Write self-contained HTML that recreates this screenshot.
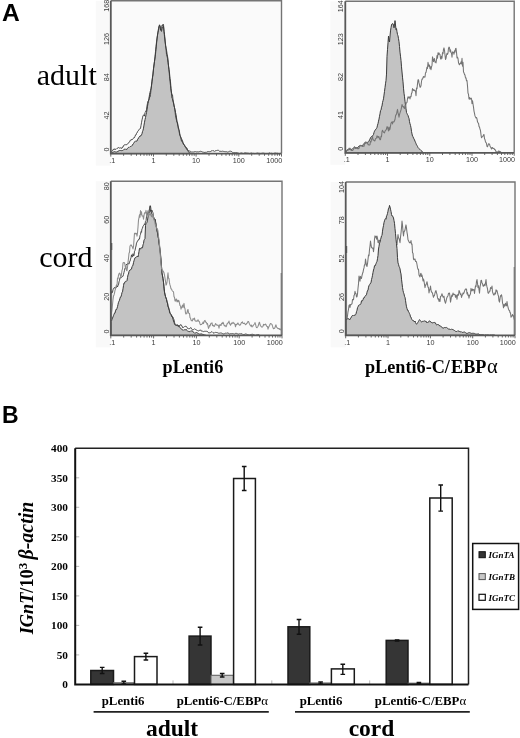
<!DOCTYPE html>
<html><head><meta charset="utf-8"><style>
html,body{margin:0;padding:0;background:#fff;width:520px;height:738px;overflow:hidden;font-family:"Liberation Sans",sans-serif;}
svg{display:block;filter:blur(0.6px);}
</style></head><body>
<svg width="520" height="738" viewBox="0 0 520 738">
<rect width="520" height="738" fill="#fff"/>
<rect x="95.8" y="0.8" width="15.0" height="164.8" fill="#f9f9f9"/>
<rect x="110.8" y="0.8" width="170.7" height="152.8" fill="#fafafa"/>

<path d="M111.0,153.6 L111.0,152.9 L111.5,152.9 L112.0,152.4 L112.5,152.4 L113.0,152.1 L113.5,152.0 L114.0,151.8 L114.5,151.6 L115.0,151.9 L115.5,151.9 L116.0,152.1 L116.5,152.0 L117.0,151.8 L117.5,151.7 L118.0,150.9 L118.5,151.0 L119.0,150.8 L119.5,150.5 L120.0,150.7 L120.5,150.5 L121.0,150.2 L121.5,150.6 L122.0,150.4 L122.5,150.5 L123.0,150.2 L123.5,150.0 L124.0,149.4 L124.5,149.2 L125.0,149.3 L125.5,149.0 L126.0,149.6 L126.5,149.3 L127.0,149.4 L127.5,148.5 L128.0,147.9 L128.5,147.3 L129.0,147.6 L129.5,147.1 L130.0,146.6 L130.5,146.5 L131.0,146.1 L131.5,146.1 L132.0,145.5 L132.5,145.2 L133.0,144.0 L133.5,143.5 L134.0,142.7 L134.5,141.9 L135.0,141.6 L135.5,141.0 L136.0,141.1 L136.5,141.2 L137.0,141.1 L137.5,139.5 L138.0,139.2 L138.5,137.7 L139.0,137.3 L139.5,137.0 L140.0,135.9 L140.5,135.8 L141.0,135.8 L141.5,134.9 L142.0,133.6 L142.5,131.6 L143.0,130.3 L143.5,128.2 L144.0,125.1 L144.5,122.2 L145.0,119.7 L145.5,117.5 L146.0,114.8 L146.5,112.6 L147.0,109.6 L147.5,106.2 L148.0,103.5 L148.5,101.3 L149.0,98.3 L149.5,94.8 L150.0,92.4 L150.5,90.5 L151.0,88.7 L151.5,85.9 L152.0,81.1 L152.5,77.8 L153.0,73.1 L153.5,68.7 L154.0,65.0 L154.5,61.4 L155.0,58.0 L155.5,54.1 L156.0,49.3 L156.5,44.0 L157.0,39.1 L157.5,35.1 L158.0,32.4 L158.5,30.3 L159.0,26.8 L159.5,24.8 L160.0,26.3 L160.5,30.0 L161.0,30.3 L161.5,31.4 L162.0,28.8 L162.5,28.2 L163.0,26.2 L163.5,26.4 L164.0,31.2 L164.5,34.4 L165.0,39.0 L165.5,45.3 L166.0,48.1 L166.5,54.5 L167.0,56.0 L167.5,58.2 L168.0,62.4 L168.5,66.1 L169.0,69.7 L169.5,73.0 L170.0,78.5 L170.5,81.9 L171.0,88.5 L171.5,93.7 L172.0,98.4 L172.5,98.8 L173.0,101.6 L173.5,103.0 L174.0,105.1 L174.5,107.7 L175.0,109.5 L175.5,112.4 L176.0,114.5 L176.5,117.9 L177.0,121.3 L177.5,124.1 L178.0,126.5 L178.5,129.4 L179.0,130.7 L179.5,133.8 L180.0,135.3 L180.5,136.4 L181.0,137.4 L181.5,138.5 L182.0,140.0 L182.5,141.0 L183.0,142.3 L183.5,144.0 L184.0,144.7 L184.5,145.4 L185.0,146.5 L185.5,146.7 L186.0,147.6 L186.5,147.7 L187.0,148.3 L187.5,149.9 L188.0,150.8 L188.5,151.9 L189.0,152.7 L189.5,152.8 L190.0,153.0 L190.5,153.0 L191.0,153.1 L191.0,153.6 Z" fill="#c3c3c3" stroke="#3a3a3a" stroke-width="1" stroke-linejoin="round"/>
<path d="M111.0,152.3 111.5,151.8 112.0,150.9 112.5,150.6 113.0,149.5 113.5,149.7 114.0,148.7 114.5,149.0 115.0,149.7 115.5,149.0 116.0,149.4 116.5,148.8 117.0,148.3 117.5,148.2 118.0,148.2 118.5,147.5 119.0,147.7 119.5,148.1 120.0,147.9 120.5,147.7 121.0,148.5 121.5,148.2 122.0,148.3 122.5,147.0 123.0,147.2 123.5,145.8 124.0,145.0 124.5,144.8 125.0,144.5 125.5,144.7 126.0,144.5 126.5,144.7 127.0,144.7 127.5,143.9 128.0,143.2 128.5,142.9 129.0,142.7 129.5,142.0 130.0,140.9 130.5,140.0 131.0,140.0 131.5,140.0 132.0,139.0 132.5,139.4 133.0,138.6 133.5,138.3 134.0,137.4 134.5,137.6 135.0,136.3 135.5,135.0 136.0,135.0 136.5,133.4 137.0,133.0 137.5,131.7 138.0,130.8 138.5,130.6 139.0,129.7 139.5,128.9 140.0,128.8 140.5,128.5 141.0,125.5 141.5,122.8 142.0,119.9 142.5,117.9 143.0,115.5 143.5,115.2 144.0,114.9 144.5,116.1 145.0,112.4 145.5,112.0 146.0,111.0 146.5,109.9 147.0,105.9 147.5,103.2 148.0,101.0 148.5,100.5 149.0,99.7 149.5,97.0 150.0,97.2 150.5,94.4 151.0,89.7 151.5,85.0 152.0,81.3 152.5,77.0 153.0,74.8 153.5,69.0 154.0,65.0 154.5,61.1 155.0,56.8 155.5,51.4 156.0,46.5 156.5,42.0 157.0,38.2 157.5,35.1 158.0,31.3 158.5,28.7 159.0,26.4 159.5,25.3 160.0,25.8 160.5,27.9 161.0,30.2 161.5,28.4 162.0,25.3 162.5,25.9 163.0,24.0 163.5,24.5 164.0,31.2 164.5,36.8 165.0,41.3 165.5,44.3 166.0,48.2 166.5,50.1 167.0,53.2 167.5,56.0 168.0,59.3 168.5,65.5 169.0,69.9 169.5,76.3 170.0,81.1 170.5,85.7 171.0,90.1 171.5,92.9 172.0,94.3 172.5,94.8 173.0,99.7 173.5,102.2 174.0,106.0 174.5,107.5 175.0,111.0 175.5,115.7 176.0,118.0 176.5,120.3 177.0,122.4 177.5,122.6 178.0,125.4 178.5,128.0 179.0,129.3 179.5,131.9 180.0,135.3 180.5,137.1 181.0,139.1 181.5,141.1 182.0,141.4 182.5,142.5 183.0,143.3 183.5,144.4 184.0,145.0 184.5,144.9 185.0,146.5 185.5,147.4 186.0,147.9 186.5,149.1 187.0,149.5 187.5,150.1 188.0,150.5 188.5,150.6 189.0,151.1 189.5,151.0 190.0,151.2 190.5,151.4 191.0,151.6 191.5,152.0 192.0,152.1 192.5,152.0 193.0,152.3 193.5,152.0 194.0,152.1 194.5,151.7 195.0,152.1 195.5,151.6 196.0,151.6 196.5,151.9 197.0,151.7 197.5,151.8 198.0,152.1 198.5,151.9 199.0,151.8 199.5,151.6 200.0,151.4 200.5,151.3 201.0,151.4 201.5,151.5 202.0,151.8 202.5,152.0 203.0,151.7 203.5,152.0 204.0,152.7 204.5,152.4 205.0,152.5 205.5,152.3 206.0,152.2 206.5,152.3 207.0,151.7 207.5,151.8 208.0,151.8 208.5,151.6 209.0,151.6 209.5,151.7 210.0,151.7 210.5,151.6 211.0,151.0 211.5,150.8 212.0,151.2 212.5,150.7 213.0,150.9 213.5,150.8 214.0,150.8 214.5,151.4 215.0,150.8 215.5,150.8 216.0,150.9 216.5,150.6 217.0,150.1 217.5,150.3 218.0,150.3 218.5,150.2 219.0,150.7 219.5,151.3 220.0,151.8 220.5,151.1 221.0,151.3 221.5,151.4 222.0,151.2 222.5,151.2 223.0,151.2 223.5,151.4 224.0,151.2 224.5,151.6 225.0,151.6 225.5,151.7 226.0,151.9 226.5,151.7 227.0,151.8 227.5,152.1 228.0,152.0 228.5,151.8 229.0,151.5 229.5,151.3 230.0,151.1 230.5,151.2 231.0,151.1 231.5,151.5 232.0,151.8 232.5,152.4 233.0,152.7 233.5,152.7 234.0,152.4 234.5,152.6 235.0,152.6 235.5,152.7 236.0,152.5 236.5,152.6 237.0,152.5 237.5,152.9 238.0,153.1 238.5,153.2 239.0,153.3 239.5,153.5 240.0,153.1 240.5,153.2 241.0,153.0 241.5,153.0 242.0,153.2 242.5,153.3 243.0,153.4 243.5,153.5 244.0,153.4 244.5,153.0 245.0,153.0 245.5,152.9 246.0,152.7 246.5,153.1 247.0,153.0 247.5,153.2 248.0,153.2 248.5,153.3 249.0,153.4 249.5,153.6 250.0,153.6 250.5,153.3 251.0,153.3 251.5,153.1 252.0,153.1 252.5,153.4 253.0,153.4 253.5,153.4 254.0,153.6 254.5,153.6 255.0,153.6 255.5,153.5 256.0,153.4 256.5,153.3 257.0,153.3 257.5,153.1 258.0,153.2 258.5,153.3 259.0,153.5 259.5,153.4 260.0,153.4 260.5,153.6 261.0,153.6 261.5,153.4 262.0,153.4 262.5,153.2 263.0,153.2 263.5,153.2 264.0,153.2 264.5,153.4 265.0,153.5 265.5,153.6 266.0,153.6 266.5,153.6 267.0,153.6 267.5,153.6 268.0,153.4 268.5,153.4 269.0,152.9 269.5,153.0 270.0,153.3 270.5,153.4 271.0,153.6 271.5,153.3 272.0,153.6 272.5,153.6 273.0,153.5 273.5,153.5 274.0,153.5 274.5,153.2 275.0,153.0 275.5,153.1 276.0,153.1 276.5,153.3 277.0,153.3 277.5,153.3 278.0,153.4 278.5,153.6 279.0,153.6 279.5,153.6 280.0,153.5 280.5,153.4 281.0,153.4" fill="none" stroke="#3a3a3a" stroke-width="0.9"/>
<path d="M110.8,0.8 H281.5 V153.6" fill="none" stroke="#747474" stroke-width="1.4"/>
<path d="M110.8,0.8 V153.6 H281.5" fill="none" stroke="#585858" stroke-width="1.8"/>
<g stroke="#585858" stroke-width="0.9"><line x1="110.8" y1="153.6" x2="110.8" y2="156.6"/>
<line x1="123.6" y1="153.6" x2="123.6" y2="155.8"/>
<line x1="131.2" y1="153.6" x2="131.2" y2="155.8"/>
<line x1="136.5" y1="153.6" x2="136.5" y2="155.8"/>
<line x1="140.6" y1="153.6" x2="140.6" y2="155.8"/>
<line x1="144.0" y1="153.6" x2="144.0" y2="155.8"/>
<line x1="146.9" y1="153.6" x2="146.9" y2="155.8"/>
<line x1="149.3" y1="153.6" x2="149.3" y2="155.8"/>
<line x1="151.5" y1="153.6" x2="151.5" y2="155.8"/>
<line x1="153.5" y1="153.6" x2="153.5" y2="156.6"/>
<line x1="166.3" y1="153.6" x2="166.3" y2="155.8"/>
<line x1="173.8" y1="153.6" x2="173.8" y2="155.8"/>
<line x1="179.2" y1="153.6" x2="179.2" y2="155.8"/>
<line x1="183.3" y1="153.6" x2="183.3" y2="155.8"/>
<line x1="186.7" y1="153.6" x2="186.7" y2="155.8"/>
<line x1="189.5" y1="153.6" x2="189.5" y2="155.8"/>
<line x1="192.0" y1="153.6" x2="192.0" y2="155.8"/>
<line x1="194.2" y1="153.6" x2="194.2" y2="155.8"/>
<line x1="196.1" y1="153.6" x2="196.1" y2="156.6"/>
<line x1="209.0" y1="153.6" x2="209.0" y2="155.8"/>
<line x1="216.5" y1="153.6" x2="216.5" y2="155.8"/>
<line x1="221.8" y1="153.6" x2="221.8" y2="155.8"/>
<line x1="226.0" y1="153.6" x2="226.0" y2="155.8"/>
<line x1="229.4" y1="153.6" x2="229.4" y2="155.8"/>
<line x1="232.2" y1="153.6" x2="232.2" y2="155.8"/>
<line x1="234.7" y1="153.6" x2="234.7" y2="155.8"/>
<line x1="236.9" y1="153.6" x2="236.9" y2="155.8"/>
<line x1="238.8" y1="153.6" x2="238.8" y2="156.6"/>
<line x1="251.7" y1="153.6" x2="251.7" y2="155.8"/>
<line x1="259.2" y1="153.6" x2="259.2" y2="155.8"/>
<line x1="264.5" y1="153.6" x2="264.5" y2="155.8"/>
<line x1="268.7" y1="153.6" x2="268.7" y2="155.8"/>
<line x1="272.0" y1="153.6" x2="272.0" y2="155.8"/>
<line x1="274.9" y1="153.6" x2="274.9" y2="155.8"/>
<line x1="277.4" y1="153.6" x2="277.4" y2="155.8"/>
<line x1="279.5" y1="153.6" x2="279.5" y2="155.8"/>
<line x1="281.5" y1="153.6" x2="281.5" y2="156.6"/></g>
<g font-family="Liberation Sans, sans-serif" font-size="7.2" fill="#3a3a3a" text-anchor="middle">
<text x="112.3" y="163.1">.1</text>
<text x="153.5" y="163.1">1</text>
<text x="196.1" y="163.1">10</text>
<text x="238.8" y="163.1">100</text>
<text x="274.2" y="163.1">1000</text>
</g>
<g font-family="Liberation Sans, sans-serif" font-size="7.2" fill="#3a3a3a" text-anchor="middle">
<text transform="translate(108.6,149.6) rotate(-90)" x="0" y="0">0</text>
<text transform="translate(108.6,115.4) rotate(-90)" x="0" y="0">42</text>
<text transform="translate(108.6,77.2) rotate(-90)" x="0" y="0">84</text>
<text transform="translate(108.6,39.0) rotate(-90)" x="0" y="0">126</text>
<text transform="translate(108.6,5.8) rotate(-90)" x="0" y="0">168</text>
</g>
<rect x="330.3" y="1.3" width="15.0" height="163.5" fill="#f9f9f9"/>
<rect x="345.3" y="1.3" width="168.9" height="151.5" fill="#fafafa"/>

<path d="M346.0,152.8 L346.0,150.9 L346.5,150.8 L347.0,150.6 L347.5,150.2 L348.0,150.1 L348.5,150.0 L349.0,149.5 L349.5,149.2 L350.0,149.3 L350.5,149.2 L351.0,149.5 L351.5,149.4 L352.0,149.4 L352.5,148.7 L353.0,148.2 L353.5,148.1 L354.0,147.6 L354.5,147.1 L355.0,147.2 L355.5,147.6 L356.0,147.2 L356.5,147.8 L357.0,147.9 L357.5,147.5 L358.0,147.3 L358.5,146.5 L359.0,146.4 L359.5,145.7 L360.0,145.4 L360.5,145.4 L361.0,145.5 L361.5,145.6 L362.0,145.7 L362.5,145.6 L363.0,144.8 L363.5,144.2 L364.0,143.6 L364.5,142.8 L365.0,142.9 L365.5,143.2 L366.0,142.2 L366.5,142.7 L367.0,142.7 L367.5,142.4 L368.0,142.5 L368.5,141.8 L369.0,141.1 L369.5,139.9 L370.0,139.1 L370.5,137.7 L371.0,137.0 L371.5,136.5 L372.0,136.2 L372.5,135.7 L373.0,135.5 L373.5,134.5 L374.0,132.5 L374.5,131.2 L375.0,130.3 L375.5,129.5 L376.0,129.3 L376.5,128.4 L377.0,127.4 L377.5,125.2 L378.0,123.6 L378.5,121.2 L379.0,119.1 L379.5,116.3 L380.0,113.9 L380.5,110.6 L381.0,110.2 L381.5,107.2 L382.0,106.0 L382.5,102.6 L383.0,100.7 L383.5,98.8 L384.0,95.1 L384.5,91.4 L385.0,87.6 L385.5,83.8 L386.0,80.5 L386.5,74.1 L387.0,56.3 L387.5,49.7 L388.0,42.8 L388.5,36.1 L389.0,40.7 L389.5,42.0 L390.0,36.0 L390.5,30.9 L391.0,27.7 L391.5,25.0 L392.0,23.9 L392.5,23.7 L393.0,23.7 L393.5,24.9 L394.0,27.8 L394.5,25.2 L395.0,20.6 L395.5,25.0 L396.0,29.6 L396.5,28.6 L397.0,31.8 L397.5,34.5 L398.0,35.8 L398.5,38.7 L399.0,41.7 L399.5,46.5 L400.0,52.2 L400.5,56.2 L401.0,60.4 L401.5,66.8 L402.0,72.0 L402.5,77.2 L403.0,81.8 L403.5,88.2 L404.0,93.2 L404.5,96.8 L405.0,101.3 L405.5,105.1 L406.0,108.7 L406.5,112.5 L407.0,113.5 L407.5,114.7 L408.0,115.4 L408.5,117.2 L409.0,118.4 L409.5,121.6 L410.0,123.8 L410.5,125.4 L411.0,127.8 L411.5,131.4 L412.0,133.9 L412.5,136.1 L413.0,136.7 L413.5,138.1 L414.0,138.9 L414.5,139.9 L415.0,141.2 L415.5,142.3 L416.0,143.5 L416.5,144.8 L417.0,145.5 L417.5,146.4 L418.0,147.5 L418.5,148.0 L419.0,148.7 L419.5,149.0 L420.0,149.5 L420.5,150.0 L421.0,150.5 L421.5,150.8 L422.0,151.7 L422.5,152.0 L423.0,152.2 L423.5,152.7 L424.0,152.8 L424.0,152.8 Z" fill="#c3c3c3" stroke="#3a3a3a" stroke-width="1" stroke-linejoin="round"/>
<path d="M346.0,151.5 346.5,150.7 347.0,150.4 347.5,149.4 348.0,149.4 348.5,149.4 349.0,148.2 349.5,148.6 350.0,148.2 350.5,149.4 351.0,150.1 351.5,150.5 352.0,150.3 352.5,150.5 353.0,150.1 353.5,149.2 354.0,148.5 354.5,146.7 355.0,147.5 355.5,148.4 356.0,148.5 356.5,148.3 357.0,147.8 357.5,148.7 358.0,148.2 358.5,148.7 359.0,148.4 359.5,146.5 360.0,146.2 360.5,145.6 361.0,145.6 361.5,145.6 362.0,146.2 362.5,146.4 363.0,145.8 363.5,146.3 364.0,146.3 364.5,144.2 365.0,143.7 365.5,142.0 366.0,141.9 366.5,142.8 367.0,143.2 367.5,142.4 368.0,144.6 368.5,144.5 369.0,145.1 369.5,145.0 370.0,144.6 370.5,141.4 371.0,142.0 371.5,139.7 372.0,138.1 372.5,136.0 373.0,140.0 373.5,139.9 374.0,140.5 374.5,140.9 375.0,140.7 375.5,138.7 376.0,138.5 376.5,138.0 377.0,135.9 377.5,136.2 378.0,137.9 378.5,136.5 379.0,136.8 379.5,138.3 380.0,139.8 380.5,139.8 381.0,136.3 381.5,136.8 382.0,131.7 382.5,130.3 383.0,131.2 383.5,132.2 384.0,132.6 384.5,132.9 385.0,131.2 385.5,130.2 386.0,130.1 386.5,129.0 387.0,126.7 387.5,127.0 388.0,129.0 388.5,130.9 389.0,127.1 389.5,129.9 390.0,128.9 390.5,126.2 391.0,123.2 391.5,122.3 392.0,121.9 392.5,123.9 393.0,121.7 393.5,122.0 394.0,121.9 394.5,120.7 395.0,119.5 395.5,116.0 396.0,114.8 396.5,114.1 397.0,111.7 397.5,109.4 398.0,112.7 398.5,114.7 399.0,117.2 399.5,114.7 400.0,112.8 400.5,111.3 401.0,109.9 401.5,107.4 402.0,104.5 402.5,105.8 403.0,106.9 403.5,106.6 404.0,107.9 404.5,108.5 405.0,105.5 405.5,108.3 406.0,103.6 406.5,102.8 407.0,102.4 407.5,98.7 408.0,96.9 408.5,98.0 409.0,96.7 409.5,97.3 410.0,98.9 410.5,96.5 411.0,96.8 411.5,93.4 412.0,92.6 412.5,88.6 413.0,90.0 413.5,90.5 414.0,89.6 414.5,90.7 415.0,90.5 415.5,91.1 416.0,95.8 416.5,88.0 417.0,88.8 417.5,83.9 418.0,79.7 418.5,79.7 419.0,82.9 419.5,85.0 420.0,87.2 420.5,87.2 421.0,85.6 421.5,81.5 422.0,79.0 422.5,79.1 423.0,77.8 423.5,76.5 424.0,77.3 424.5,76.8 425.0,77.0 425.5,72.7 426.0,72.5 426.5,69.8 427.0,67.2 427.5,68.5 428.0,62.3 428.5,64.9 429.0,66.5 429.5,65.0 430.0,68.7 430.5,66.7 431.0,69.7 431.5,66.8 432.0,65.4 432.5,56.8 433.0,58.6 433.5,61.6 434.0,59.7 434.5,58.6 435.0,62.3 435.5,61.7 436.0,62.9 436.5,59.7 437.0,55.5 437.5,58.2 438.0,52.8 438.5,54.6 439.0,52.9 439.5,54.3 440.0,54.4 440.5,58.4 441.0,59.1 441.5,56.3 442.0,58.2 442.5,52.6 443.0,53.8 443.5,49.4 444.0,47.9 444.5,50.3 445.0,55.1 445.5,59.5 446.0,58.3 446.5,55.2 447.0,53.4 447.5,54.4 448.0,53.0 448.5,48.2 449.0,47.1 449.5,47.6 450.0,51.8 450.5,49.8 451.0,52.5 451.5,53.1 452.0,57.3 452.5,51.9 453.0,52.3 453.5,52.3 454.0,54.3 454.5,50.7 455.0,52.3 455.5,48.7 456.0,48.3 456.5,52.3 457.0,57.9 457.5,57.2 458.0,58.5 458.5,62.6 459.0,64.1 459.5,64.8 460.0,63.5 460.5,63.6 461.0,61.8 461.5,64.0 462.0,58.3 462.5,66.2 463.0,62.3 463.5,72.0 464.0,72.8 464.5,74.3 465.0,75.1 465.5,78.0 466.0,77.9 466.5,80.8 467.0,80.5 467.5,85.9 468.0,93.0 468.5,94.4 469.0,99.0 469.5,97.5 470.0,99.3 470.5,98.8 471.0,98.0 471.5,98.5 472.0,103.6 472.5,100.7 473.0,104.0 473.5,107.1 474.0,111.1 474.5,113.3 475.0,115.9 475.5,117.0 476.0,117.9 476.5,117.5 477.0,118.9 477.5,121.8 478.0,122.9 478.5,123.2 479.0,126.4 479.5,127.1 480.0,129.0 480.5,130.6 481.0,134.8 481.5,137.7 482.0,137.0 482.5,136.6 483.0,136.1 483.5,134.9 484.0,134.5 484.5,138.6 485.0,139.7 485.5,142.0 486.0,142.4 486.5,143.6 487.0,146.4 487.5,146.7 488.0,145.4 488.5,143.8 489.0,143.8 489.5,144.2 490.0,145.9 490.5,146.9 491.0,147.8 491.5,149.0 492.0,147.8 492.5,147.6 493.0,148.4 493.5,148.5 494.0,148.4 494.5,149.4 495.0,149.5 495.5,150.5 496.0,151.5 496.5,151.9 497.0,152.3 497.5,151.9 498.0,152.1 498.5,151.0 499.0,151.1 499.5,151.7 500.0,151.6 500.5,151.8 501.0,152.3 501.5,152.8 502.0,152.8 502.5,152.8 503.0,152.8 503.5,152.7 504.0,152.6" fill="none" stroke="#747474" stroke-width="1.05" stroke-linejoin="round"/>
<path d="M345.3,1.3 H514.2 V152.8" fill="none" stroke="#747474" stroke-width="1.4"/>
<path d="M345.3,1.3 V152.8 H514.2" fill="none" stroke="#585858" stroke-width="1.8"/>
<g stroke="#585858" stroke-width="0.9"><line x1="345.3" y1="152.8" x2="345.3" y2="155.8"/>
<line x1="358.0" y1="152.8" x2="358.0" y2="155.0"/>
<line x1="365.4" y1="152.8" x2="365.4" y2="155.0"/>
<line x1="370.7" y1="152.8" x2="370.7" y2="155.0"/>
<line x1="374.8" y1="152.8" x2="374.8" y2="155.0"/>
<line x1="378.2" y1="152.8" x2="378.2" y2="155.0"/>
<line x1="381.0" y1="152.8" x2="381.0" y2="155.0"/>
<line x1="383.4" y1="152.8" x2="383.4" y2="155.0"/>
<line x1="385.6" y1="152.8" x2="385.6" y2="155.0"/>
<line x1="387.5" y1="152.8" x2="387.5" y2="155.8"/>
<line x1="400.2" y1="152.8" x2="400.2" y2="155.0"/>
<line x1="407.7" y1="152.8" x2="407.7" y2="155.0"/>
<line x1="412.9" y1="152.8" x2="412.9" y2="155.0"/>
<line x1="417.0" y1="152.8" x2="417.0" y2="155.0"/>
<line x1="420.4" y1="152.8" x2="420.4" y2="155.0"/>
<line x1="423.2" y1="152.8" x2="423.2" y2="155.0"/>
<line x1="425.7" y1="152.8" x2="425.7" y2="155.0"/>
<line x1="427.8" y1="152.8" x2="427.8" y2="155.0"/>
<line x1="429.8" y1="152.8" x2="429.8" y2="155.8"/>
<line x1="442.5" y1="152.8" x2="442.5" y2="155.0"/>
<line x1="449.9" y1="152.8" x2="449.9" y2="155.0"/>
<line x1="455.2" y1="152.8" x2="455.2" y2="155.0"/>
<line x1="459.3" y1="152.8" x2="459.3" y2="155.0"/>
<line x1="462.6" y1="152.8" x2="462.6" y2="155.0"/>
<line x1="465.4" y1="152.8" x2="465.4" y2="155.0"/>
<line x1="467.9" y1="152.8" x2="467.9" y2="155.0"/>
<line x1="470.0" y1="152.8" x2="470.0" y2="155.0"/>
<line x1="472.0" y1="152.8" x2="472.0" y2="155.8"/>
<line x1="484.7" y1="152.8" x2="484.7" y2="155.0"/>
<line x1="492.1" y1="152.8" x2="492.1" y2="155.0"/>
<line x1="497.4" y1="152.8" x2="497.4" y2="155.0"/>
<line x1="501.5" y1="152.8" x2="501.5" y2="155.0"/>
<line x1="504.8" y1="152.8" x2="504.8" y2="155.0"/>
<line x1="507.7" y1="152.8" x2="507.7" y2="155.0"/>
<line x1="510.1" y1="152.8" x2="510.1" y2="155.0"/>
<line x1="512.3" y1="152.8" x2="512.3" y2="155.0"/>
<line x1="514.2" y1="152.8" x2="514.2" y2="155.8"/></g>
<g font-family="Liberation Sans, sans-serif" font-size="7.2" fill="#3a3a3a" text-anchor="middle">
<text x="346.8" y="162.3">.1</text>
<text x="387.5" y="162.3">1</text>
<text x="429.8" y="162.3">10</text>
<text x="472.0" y="162.3">100</text>
<text x="506.9" y="162.3">1000</text>
</g>
<g font-family="Liberation Sans, sans-serif" font-size="7.2" fill="#3a3a3a" text-anchor="middle">
<text transform="translate(343.1,148.8) rotate(-90)" x="0" y="0">0</text>
<text transform="translate(343.1,114.9) rotate(-90)" x="0" y="0">41</text>
<text transform="translate(343.1,77.1) rotate(-90)" x="0" y="0">82</text>
<text transform="translate(343.1,39.2) rotate(-90)" x="0" y="0">123</text>
<text transform="translate(343.1,6.3) rotate(-90)" x="0" y="0">164</text>
</g>
<rect x="95.8" y="181.2" width="15.0" height="166.2" fill="#f9f9f9"/>
<rect x="110.8" y="181.2" width="171.2" height="154.2" fill="#fafafa"/>
<line x1="111.6" y1="243.0" x2="111.6" y2="250.0" stroke="#555" stroke-width="1.4"/><line x1="111.6" y1="250.0" x2="111.6" y2="320.0" stroke="#aaa" stroke-width="1.2"/><line x1="281.3" y1="273.0" x2="281.3" y2="335.4" stroke="#8a8a8a" stroke-width="1.4"/>
<path d="M111.0,335.4 L111.0,321.5 L111.5,321.0 L112.0,319.4 L112.5,318.1 L113.0,316.9 L113.5,315.7 L114.0,314.3 L114.5,313.1 L115.0,313.2 L115.5,310.8 L116.0,309.3 L116.5,309.7 L117.0,308.3 L117.5,306.7 L118.0,304.4 L118.5,302.3 L119.0,301.2 L119.5,300.2 L120.0,298.2 L120.5,296.9 L121.0,296.8 L121.5,294.8 L122.0,292.6 L122.5,291.9 L123.0,288.8 L123.5,285.7 L124.0,283.0 L124.5,283.1 L125.0,281.9 L125.5,281.3 L126.0,280.9 L126.5,281.2 L127.0,280.6 L127.5,277.6 L128.0,274.9 L128.5,274.0 L129.0,271.4 L129.5,270.4 L130.0,270.5 L130.5,269.6 L131.0,269.6 L131.5,269.0 L132.0,266.7 L132.5,266.2 L133.0,265.0 L133.5,262.7 L134.0,260.8 L134.5,259.2 L135.0,257.8 L135.5,257.5 L136.0,257.4 L136.5,256.8 L137.0,256.9 L137.5,256.0 L138.0,256.9 L138.5,254.5 L139.0,251.4 L139.5,248.4 L140.0,248.6 L140.5,249.2 L141.0,247.8 L141.5,247.8 L142.0,247.5 L142.5,247.8 L143.0,244.8 L143.5,243.5 L144.0,240.2 L144.5,239.3 L145.0,238.5 L145.5,225.4 L146.0,223.6 L146.5,223.1 L147.0,222.3 L147.5,220.2 L148.0,216.9 L148.5,213.3 L149.0,211.1 L149.5,208.9 L150.0,205.6 L150.5,206.0 L151.0,209.9 L151.5,213.4 L152.0,214.4 L152.5,214.7 L153.0,216.6 L153.5,217.2 L154.0,218.1 L154.5,219.5 L155.0,219.2 L155.5,221.1 L156.0,224.4 L156.5,227.5 L157.0,229.7 L157.5,232.9 L158.0,236.9 L158.5,238.6 L159.0,243.3 L159.5,246.8 L160.0,250.0 L160.5,253.8 L161.0,261.0 L161.5,266.7 L162.0,273.6 L162.5,276.0 L163.0,278.6 L163.5,282.4 L164.0,286.8 L164.5,291.8 L165.0,294.1 L165.5,296.4 L166.0,298.0 L166.5,299.4 L167.0,302.3 L167.5,303.0 L168.0,306.8 L168.5,307.0 L169.0,308.8 L169.5,311.9 L170.0,313.3 L170.5,313.8 L171.0,314.7 L171.5,315.0 L172.0,316.3 L172.5,317.3 L173.0,319.2 L173.5,321.0 L174.0,322.3 L174.5,323.9 L175.0,324.9 L175.5,325.2 L176.0,325.4 L176.5,325.4 L177.0,325.8 L177.5,325.4 L178.0,326.2 L178.5,325.6 L179.0,326.4 L179.5,326.6 L180.0,327.8 L180.5,328.0 L181.0,328.6 L181.5,329.3 L182.0,329.6 L182.5,329.9 L183.0,329.7 L183.5,330.2 L184.0,329.8 L184.5,329.7 L185.0,329.7 L185.5,330.0 L186.0,329.3 L186.5,330.0 L187.0,330.4 L187.5,331.1 L188.0,331.2 L188.5,331.4 L189.0,331.5 L189.5,331.6 L190.0,331.5 L190.5,331.0 L191.0,331.0 L191.5,330.9 L192.0,330.8 L192.5,331.2 L193.0,331.9 L193.5,332.2 L194.0,332.6 L194.5,333.1 L195.0,332.8 L195.5,332.9 L196.0,332.6 L196.5,332.5 L197.0,332.7 L197.5,333.0 L198.0,333.3 L198.5,333.6 L199.0,334.1 L199.5,334.1 L200.0,334.2 L200.5,334.0 L201.0,333.8 L201.5,333.9 L202.0,333.9 L202.5,334.3 L203.0,334.3 L203.5,334.5 L204.0,334.8 L204.5,335.0 L205.0,335.2 L205.5,335.3 L206.0,335.2 L206.0,335.4 Z" fill="#c3c3c3" stroke="#3a3a3a" stroke-width="1" stroke-linejoin="round"/>
<path d="M111.0,293.8 111.5,291.8 112.0,291.6 112.5,292.5 113.0,289.7 113.5,289.1 114.0,287.8 114.5,287.7 115.0,287.5 115.5,288.1 116.0,287.3 116.5,287.3 117.0,286.0 117.5,287.0 118.0,285.0 118.5,284.8 119.0,281.8 119.5,280.5 120.0,277.5 120.5,277.8 121.0,277.5 121.5,277.6 122.0,277.0 122.5,276.4 123.0,276.3 123.5,274.3 124.0,272.3 124.5,270.3 125.0,268.3 125.5,269.0 126.0,265.3 126.5,264.1 127.0,264.9 127.5,263.7 128.0,263.1 128.5,263.8 129.0,264.2 129.5,261.7 130.0,261.5 130.5,259.1 131.0,257.8 131.5,254.8 132.0,256.8 132.5,256.8 133.0,253.7 133.5,256.1 134.0,255.4 134.5,251.2 135.0,250.4 135.5,247.9 136.0,246.0 136.5,243.1 137.0,242.1 137.5,241.0 138.0,240.2 138.5,240.1 139.0,238.7 139.5,239.0 140.0,235.6 140.5,234.4 141.0,231.7 141.5,232.3 142.0,228.6 142.5,228.3 143.0,226.3 143.5,225.5 144.0,225.2 144.5,223.8 145.0,224.6 145.5,221.3 146.0,220.7 146.5,216.7 147.0,214.9 147.5,214.1 148.0,211.9 148.5,214.1 149.0,212.8 149.5,212.2 150.0,211.5 150.5,209.7 151.0,211.3 151.5,210.6 152.0,210.1 152.5,212.1 153.0,212.7 153.5,216.6 154.0,218.5 154.5,219.9 155.0,219.1 155.5,222.2 156.0,224.4 156.5,228.4 157.0,231.2 157.5,232.9 158.0,235.1 158.5,238.2 159.0,242.7 159.5,245.6 160.0,249.7 160.5,255.2 161.0,259.8 161.5,266.3 162.0,272.5 162.5,275.8 163.0,278.4 163.5,282.0 164.0,288.3 164.5,292.5 165.0,294.9 165.5,296.6 166.0,297.9 166.5,299.2 167.0,301.2 167.5,302.8 168.0,305.8 168.5,308.0 169.0,309.5 169.5,310.5 170.0,312.7 170.5,313.7 171.0,314.5 171.5,316.3 172.0,316.0 172.5,317.5 173.0,317.1 173.5,318.6 174.0,319.8 174.5,322.3 175.0,323.8 175.5,324.8 176.0,325.3 176.5,325.0 177.0,324.6 177.5,324.8 178.0,325.0 178.5,326.6 179.0,326.3 179.5,325.9 180.0,324.9 180.5,324.9 181.0,324.5 181.5,325.7 182.0,325.8 182.5,327.6 183.0,327.3 183.5,327.4 184.0,327.1 184.5,326.6 185.0,326.6 185.5,326.3 186.0,326.0 186.5,326.7 187.0,327.4 187.5,328.3 188.0,328.2 188.5,328.8 189.0,328.4 189.5,328.6 190.0,328.4 190.5,327.7 191.0,327.6 191.5,329.0 192.0,329.5 192.5,329.8 193.0,330.1 193.5,329.6 194.0,329.3 194.5,328.8 195.0,328.9 195.5,329.5 196.0,329.8 196.5,330.0 197.0,330.1 197.5,330.6 198.0,330.6 198.5,330.9 199.0,330.8 199.5,330.3 200.0,330.4 200.5,329.8 201.0,330.9 201.5,331.0 202.0,331.1 202.5,331.2 203.0,331.5 203.5,331.6 204.0,331.2 204.5,331.3 205.0,331.1 205.5,331.3 206.0,331.3 206.5,331.3 207.0,331.1 207.5,331.5 208.0,332.4 208.5,332.7 209.0,333.0 209.5,332.8 210.0,332.5 210.5,332.6 211.0,332.2 211.5,331.9 212.0,331.6 212.5,332.1 213.0,332.7 213.5,332.9 214.0,333.3 214.5,332.8 215.0,332.8 215.5,332.3 216.0,332.1 216.5,332.5 217.0,332.9 217.5,332.7 218.0,333.0 218.5,333.2 219.0,333.2 219.5,333.2 220.0,333.2 220.5,333.0 221.0,332.9 221.5,333.1 222.0,333.0 222.5,333.6 223.0,334.2 223.5,333.9 224.0,333.7 224.5,333.7 225.0,333.6 225.5,333.2 226.0,332.9 226.5,333.3 227.0,332.7 227.5,333.1 228.0,333.3 228.5,333.1 229.0,333.9 229.5,334.1 230.0,333.7 230.5,333.7 231.0,333.6 231.5,333.7 232.0,333.4 232.5,333.6 233.0,333.8 233.5,333.8 234.0,334.0 234.5,334.0 235.0,333.6 235.5,333.4 236.0,333.1 236.5,333.4 237.0,333.8 237.5,333.8 238.0,334.0 238.5,334.1 239.0,334.2 239.5,333.7 240.0,333.8 240.5,333.9 241.0,333.4 241.5,333.8 242.0,333.8 242.5,334.1 243.0,334.6 243.5,334.7 244.0,334.2 244.5,334.4 245.0,334.1 245.5,334.0 246.0,334.1 246.5,334.2 247.0,334.1 247.5,334.6 248.0,334.5 248.5,334.7 249.0,335.4 249.5,334.8 250.0,334.5 250.5,334.6 251.0,334.5 251.5,334.4 252.0,334.2 252.5,334.3 253.0,334.6 253.5,334.6 254.0,334.7 254.5,335.0 255.0,335.0 255.5,335.3 256.0,335.1 256.5,334.9 257.0,334.7 257.5,334.7 258.0,334.6 258.5,334.7 259.0,334.7 259.5,335.3 260.0,335.3" fill="none" stroke="#3a3a3a" stroke-width="0.9"/>
<path d="M111.0,319.0 111.5,312.6 112.0,309.5 112.5,304.7 113.0,299.4 113.5,295.9 114.0,294.9 114.5,293.1 115.0,290.4 115.5,289.0 116.0,286.4 116.5,284.8 117.0,285.8 117.5,278.1 118.0,278.6 118.5,275.1 119.0,273.8 119.5,273.1 120.0,273.7 120.5,276.1 121.0,277.3 121.5,273.9 122.0,270.4 122.5,268.8 123.0,262.9 123.5,262.6 124.0,262.6 124.5,262.7 125.0,265.0 125.5,268.6 126.0,267.0 126.5,270.4 127.0,270.7 127.5,267.2 128.0,262.4 128.5,258.3 129.0,253.3 129.5,252.2 130.0,245.9 130.5,245.6 131.0,244.7 131.5,245.7 132.0,246.3 132.5,247.3 133.0,248.9 133.5,246.7 134.0,239.9 134.5,233.2 135.0,233.8 135.5,233.2 136.0,234.0 136.5,233.4 137.0,236.1 137.5,232.8 138.0,227.1 138.5,220.1 139.0,217.6 139.5,214.7 140.0,217.3 140.5,210.6 141.0,214.4 141.5,211.7 142.0,216.0 142.5,216.1 143.0,215.9 143.5,219.2 144.0,215.6 144.5,212.8 145.0,213.1 145.5,212.6 146.0,210.4 146.5,214.9 147.0,212.3 147.5,212.7 148.0,210.6 148.5,215.4 149.0,213.8 149.5,214.7 150.0,215.0 150.5,213.7 151.0,214.8 151.5,216.7 152.0,215.1 152.5,217.2 153.0,214.3 153.5,217.3 154.0,220.1 154.5,220.0 155.0,223.2 155.5,225.7 156.0,225.3 156.5,227.4 157.0,229.2 157.5,229.1 158.0,231.2 158.5,236.3 159.0,239.8 159.5,244.4 160.0,250.6 160.5,257.4 161.0,263.2 161.5,268.5 162.0,269.6 162.5,272.6 163.0,270.9 163.5,271.7 164.0,272.8 164.5,275.2 165.0,278.1 165.5,281.2 166.0,285.1 166.5,284.4 167.0,282.2 167.5,277.4 168.0,272.7 168.5,278.2 169.0,278.5 169.5,282.9 170.0,284.9 170.5,286.6 171.0,288.8 171.5,289.0 172.0,290.2 172.5,291.1 173.0,291.4 173.5,291.8 174.0,296.6 174.5,297.4 175.0,301.0 175.5,301.1 176.0,299.1 176.5,299.1 177.0,301.8 177.5,300.2 178.0,301.8 178.5,300.3 179.0,300.8 179.5,303.4 180.0,305.6 180.5,305.9 181.0,309.2 181.5,307.6 182.0,306.8 182.5,305.1 183.0,307.7 183.5,305.4 184.0,303.4 184.5,307.5 185.0,308.7 185.5,313.0 186.0,314.1 186.5,313.0 187.0,313.3 187.5,310.1 188.0,309.5 188.5,312.7 189.0,313.4 189.5,313.4 190.0,317.6 190.5,318.1 191.0,320.2 191.5,320.3 192.0,320.9 192.5,320.7 193.0,318.6 193.5,319.2 194.0,319.2 194.5,318.1 195.0,320.6 195.5,321.1 196.0,321.0 196.5,321.3 197.0,320.9 197.5,321.1 198.0,319.8 198.5,321.0 199.0,321.3 199.5,321.9 200.0,323.9 200.5,324.8 201.0,324.6 201.5,324.5 202.0,323.9 202.5,323.6 203.0,322.1 203.5,323.6 204.0,322.0 204.5,320.7 205.0,320.4 205.5,321.4 206.0,322.4 206.5,322.6 207.0,324.3 207.5,323.5 208.0,326.2 208.5,328.4 209.0,327.3 209.5,325.4 210.0,326.0 210.5,324.5 211.0,323.3 211.5,323.3 212.0,322.9 212.5,325.7 213.0,325.3 213.5,325.6 214.0,326.6 214.5,326.2 215.0,324.9 215.5,323.6 216.0,324.1 216.5,325.0 217.0,325.0 217.5,325.4 218.0,325.1 218.5,325.8 219.0,328.2 219.5,325.5 220.0,324.5 220.5,325.3 221.0,325.5 221.5,323.6 222.0,323.1 222.5,323.7 223.0,322.2 223.5,323.5 224.0,324.9 224.5,325.9 225.0,325.4 225.5,326.0 226.0,326.8 226.5,326.0 227.0,323.8 227.5,323.7 228.0,322.8 228.5,322.5 229.0,321.1 229.5,323.5 230.0,324.3 230.5,325.2 231.0,324.0 231.5,323.0 232.0,323.6 232.5,323.2 233.0,322.3 233.5,323.1 234.0,323.1 234.5,323.9 235.0,324.4 235.5,326.8 236.0,324.3 236.5,324.8 237.0,324.5 237.5,323.2 238.0,323.1 238.5,324.1 239.0,324.6 239.5,325.3 240.0,325.3 240.5,324.4 241.0,323.6 241.5,322.6 242.0,322.4 242.5,321.9 243.0,323.4 243.5,323.5 244.0,323.4 244.5,323.1 245.0,324.0 245.5,324.7 246.0,324.5 246.5,323.6 247.0,323.4 247.5,322.3 248.0,321.4 248.5,321.5 249.0,322.7 249.5,323.9 250.0,325.0 250.5,325.4 251.0,326.3 251.5,325.1 252.0,326.9 252.5,326.0 253.0,325.9 253.5,325.0 254.0,324.5 254.5,324.0 255.0,322.6 255.5,324.2 256.0,326.2 256.5,327.6 257.0,327.7 257.5,327.0 258.0,326.2 258.5,325.0 259.0,322.9 259.5,322.2 260.0,324.5 260.5,325.8 261.0,326.2 261.5,327.0 262.0,327.0 262.5,326.9 263.0,326.2 263.5,324.3 264.0,325.1 264.5,324.5 265.0,324.6 265.5,324.0 266.0,324.6 266.5,326.0 267.0,326.4 267.5,326.4 268.0,329.2 268.5,327.4 269.0,326.4 269.5,325.7 270.0,324.3 270.5,323.6 271.0,323.5 271.5,324.1 272.0,324.4 272.5,326.2 273.0,327.8 273.5,328.8 274.0,328.6 274.5,328.3 275.0,327.7 275.5,325.7 276.0,324.9 276.5,327.1 277.0,327.4 277.5,328.3 278.0,328.7 278.5,328.4 279.0,328.6 279.5,329.4 280.0,328.8 280.5,329.2 281.0,330.4" fill="none" stroke="#8c8c8c" stroke-width="1.05" stroke-linejoin="round"/>
<path d="M110.8,181.2 H282.0 V335.4" fill="none" stroke="#747474" stroke-width="1.4"/>
<path d="M110.8,181.2 V335.4 H282.0" fill="none" stroke="#585858" stroke-width="1.8"/>
<g stroke="#585858" stroke-width="0.9"><line x1="110.8" y1="335.4" x2="110.8" y2="338.4"/>
<line x1="123.7" y1="335.4" x2="123.7" y2="337.6"/>
<line x1="131.2" y1="335.4" x2="131.2" y2="337.6"/>
<line x1="136.6" y1="335.4" x2="136.6" y2="337.6"/>
<line x1="140.7" y1="335.4" x2="140.7" y2="337.6"/>
<line x1="144.1" y1="335.4" x2="144.1" y2="337.6"/>
<line x1="147.0" y1="335.4" x2="147.0" y2="337.6"/>
<line x1="149.5" y1="335.4" x2="149.5" y2="337.6"/>
<line x1="151.6" y1="335.4" x2="151.6" y2="337.6"/>
<line x1="153.6" y1="335.4" x2="153.6" y2="338.4"/>
<line x1="166.5" y1="335.4" x2="166.5" y2="337.6"/>
<line x1="174.0" y1="335.4" x2="174.0" y2="337.6"/>
<line x1="179.4" y1="335.4" x2="179.4" y2="337.6"/>
<line x1="183.5" y1="335.4" x2="183.5" y2="337.6"/>
<line x1="186.9" y1="335.4" x2="186.9" y2="337.6"/>
<line x1="189.8" y1="335.4" x2="189.8" y2="337.6"/>
<line x1="192.3" y1="335.4" x2="192.3" y2="337.6"/>
<line x1="194.4" y1="335.4" x2="194.4" y2="337.6"/>
<line x1="196.4" y1="335.4" x2="196.4" y2="338.4"/>
<line x1="209.3" y1="335.4" x2="209.3" y2="337.6"/>
<line x1="216.8" y1="335.4" x2="216.8" y2="337.6"/>
<line x1="222.2" y1="335.4" x2="222.2" y2="337.6"/>
<line x1="226.3" y1="335.4" x2="226.3" y2="337.6"/>
<line x1="229.7" y1="335.4" x2="229.7" y2="337.6"/>
<line x1="232.6" y1="335.4" x2="232.6" y2="337.6"/>
<line x1="235.1" y1="335.4" x2="235.1" y2="337.6"/>
<line x1="237.2" y1="335.4" x2="237.2" y2="337.6"/>
<line x1="239.2" y1="335.4" x2="239.2" y2="338.4"/>
<line x1="252.1" y1="335.4" x2="252.1" y2="337.6"/>
<line x1="259.6" y1="335.4" x2="259.6" y2="337.6"/>
<line x1="265.0" y1="335.4" x2="265.0" y2="337.6"/>
<line x1="269.1" y1="335.4" x2="269.1" y2="337.6"/>
<line x1="272.5" y1="335.4" x2="272.5" y2="337.6"/>
<line x1="275.4" y1="335.4" x2="275.4" y2="337.6"/>
<line x1="277.9" y1="335.4" x2="277.9" y2="337.6"/>
<line x1="280.0" y1="335.4" x2="280.0" y2="337.6"/>
<line x1="282.0" y1="335.4" x2="282.0" y2="338.4"/></g>
<g font-family="Liberation Sans, sans-serif" font-size="7.2" fill="#3a3a3a" text-anchor="middle">
<text x="112.3" y="344.9">.1</text>
<text x="153.6" y="344.9">1</text>
<text x="196.4" y="344.9">10</text>
<text x="239.2" y="344.9">100</text>
<text x="274.7" y="344.9">1000</text>
</g>
<g font-family="Liberation Sans, sans-serif" font-size="7.2" fill="#3a3a3a" text-anchor="middle">
<text transform="translate(108.6,331.4) rotate(-90)" x="0" y="0">0</text>
<text transform="translate(108.6,296.8) rotate(-90)" x="0" y="0">20</text>
<text transform="translate(108.6,258.3) rotate(-90)" x="0" y="0">40</text>
<text transform="translate(108.6,219.8) rotate(-90)" x="0" y="0">60</text>
<text transform="translate(108.6,186.2) rotate(-90)" x="0" y="0">80</text>
</g>
<rect x="330.7" y="182.0" width="15.0" height="165.3" fill="#f9f9f9"/>
<rect x="345.7" y="182.0" width="169.3" height="153.3" fill="#fafafa"/>
<line x1="346.5" y1="246.0" x2="346.5" y2="253.0" stroke="#555" stroke-width="1.4"/><line x1="346.5" y1="253.0" x2="346.5" y2="320.0" stroke="#aaa" stroke-width="1.2"/><line x1="514.3" y1="267.0" x2="514.3" y2="335.3" stroke="#8a8a8a" stroke-width="1.4"/>
<path d="M346.0,324.5 346.5,321.5 347.0,319.5 347.5,315.7 348.0,311.8 348.5,309.5 349.0,305.6 349.5,304.7 350.0,307.4 350.5,304.6 351.0,304.7 351.5,304.1 352.0,303.8 352.5,299.6 353.0,299.4 353.5,299.8 354.0,295.6 354.5,294.8 355.0,291.3 355.5,293.4 356.0,293.5 356.5,296.9 357.0,296.7 357.5,294.0 358.0,288.2 358.5,283.9 359.0,276.0 359.5,277.8 360.0,281.2 360.5,276.4 361.0,277.9 361.5,278.5 362.0,275.5 362.5,273.6 363.0,272.3 363.5,269.6 364.0,267.9 364.5,264.7 365.0,265.0 365.5,259.0 366.0,262.5 366.5,265.2 367.0,266.5 367.5,263.7 368.0,259.4 368.5,255.1 369.0,255.8 369.5,249.5 370.0,246.1 370.5,241.1 371.0,244.6 371.5,247.3 372.0,247.9 372.5,248.3 373.0,248.0 373.5,251.7 374.0,247.2 374.5,239.0 375.0,235.9 375.5,237.3 376.0,236.3 376.5,239.2 377.0,236.1 377.5,238.1 378.0,242.4 378.5,242.8 379.0,240.0 379.5,240.9 380.0,240.8 380.5,241.6 381.0,240.6 381.5,244.2 382.0,245.9 382.5,247.5 383.0,250.2 383.5,253.2 384.0,258.1 384.5,256.5 385.0,255.9 385.5,251.8 386.0,256.3 386.5,255.6 387.0,253.9 387.5,258.9 388.0,257.2 388.5,258.7 389.0,259.3 389.5,258.9 390.0,255.3 390.5,255.5 391.0,252.9 391.5,250.7 392.0,251.5 392.5,248.1 393.0,249.4 393.5,246.2 394.0,249.1 394.5,250.7 395.0,251.3 395.5,251.9 396.0,251.6 396.5,244.9 397.0,244.6 397.5,238.9 398.0,234.5 398.5,237.9 399.0,238.4 399.5,240.4 400.0,242.7 400.5,237.1 401.0,233.0 401.5,228.0 402.0,221.0 402.5,225.1 403.0,231.4 403.5,236.0 404.0,231.6 404.5,231.3 405.0,230.0 405.5,227.2 406.0,224.9 406.5,228.1 407.0,232.3 407.5,235.2 408.0,239.8 408.5,240.7 409.0,241.8 409.5,242.8 410.0,242.3 410.5,242.8 411.0,240.5 411.5,244.3 412.0,244.0 412.5,252.8 413.0,253.1 413.5,259.1 414.0,259.8 414.5,258.9 415.0,258.9 415.5,261.5 416.0,261.2 416.5,262.0 417.0,264.5 417.5,267.7 418.0,269.3 418.5,269.2 419.0,274.9 419.5,275.9 420.0,276.9 420.5,273.9 421.0,273.4 421.5,276.4 422.0,275.0 422.5,277.5 423.0,281.0 423.5,279.1 424.0,281.0 424.5,284.3 425.0,287.6 425.5,285.0 426.0,284.9 426.5,283.4 427.0,281.7 427.5,284.3 428.0,287.2 428.5,287.4 429.0,293.0 429.5,290.1 430.0,289.3 430.5,286.1 431.0,290.1 431.5,292.0 432.0,292.3 432.5,293.2 433.0,295.5 433.5,297.3 434.0,295.7 434.5,295.5 435.0,293.0 435.5,291.3 436.0,290.6 436.5,292.8 437.0,294.3 437.5,297.7 438.0,299.2 438.5,298.7 439.0,301.3 439.5,299.3 440.0,301.4 440.5,296.4 441.0,296.4 441.5,295.1 442.0,293.8 442.5,295.3 443.0,297.1 443.5,297.3 444.0,296.3 444.5,300.0 445.0,301.9 445.5,303.2 446.0,301.4 446.5,298.8 447.0,297.3 447.5,296.5 448.0,295.7 448.5,293.3 449.0,293.3 449.5,293.1 450.0,296.5 450.5,302.1 451.0,299.4 451.5,296.3 452.0,295.0 452.5,296.2 453.0,293.0 453.5,294.6 454.0,294.3 454.5,294.3 455.0,294.7 455.5,297.3 456.0,295.1 456.5,295.9 457.0,299.3 457.5,295.1 458.0,294.4 458.5,295.3 459.0,290.6 459.5,291.3 460.0,293.1 460.5,294.5 461.0,293.9 461.5,297.4 462.0,295.5 462.5,295.0 463.0,293.0 463.5,293.8 464.0,292.8 464.5,291.1 465.0,289.9 465.5,289.0 466.0,289.3 466.5,289.1 467.0,293.9 467.5,292.6 468.0,295.4 468.5,295.1 469.0,298.1 469.5,295.2 470.0,295.2 470.5,293.7 471.0,288.4 471.5,290.0 472.0,290.9 472.5,289.1 473.0,290.2 473.5,289.6 474.0,289.7 474.5,293.4 475.0,289.2 475.5,285.9 476.0,286.6 476.5,281.3 477.0,279.6 477.5,283.3 478.0,287.6 478.5,285.7 479.0,289.7 479.5,293.1 480.0,287.0 480.5,284.6 481.0,280.4 481.5,280.3 482.0,283.0 482.5,283.6 483.0,286.0 483.5,286.2 484.0,285.1 484.5,284.3 485.0,285.7 485.5,282.9 486.0,279.5 486.5,284.6 487.0,286.9 487.5,288.8 488.0,292.9 488.5,293.3 489.0,292.3 489.5,291.1 490.0,291.2 490.5,287.6 491.0,288.5 491.5,288.3 492.0,286.0 492.5,291.9 493.0,293.2 493.5,294.5 494.0,295.1 494.5,294.0 495.0,292.9 495.5,294.0 496.0,289.8 496.5,291.2 497.0,290.6 497.5,292.8 498.0,294.7 498.5,296.1 499.0,300.9 499.5,302.1 500.0,298.8 500.5,295.7 501.0,295.9 501.5,294.7 502.0,297.4 502.5,302.8 503.0,304.4 503.5,307.8 504.0,304.6 504.5,306.2 505.0,304.4 505.5,303.2 506.0,306.0 506.5,305.6 507.0,301.6 507.5,305.0 508.0,307.2 508.5,309.2 509.0,310.2 509.5,310.4 510.0,312.7 510.5,312.8 511.0,317.3 511.5,316.1 512.0,316.3 512.5,314.5 513.0,315.6 513.5,315.8 514.0,318.3 514.5,320.1" fill="none" stroke="#747474" stroke-width="1.05" stroke-linejoin="round"/>
<path d="M346.0,335.3 L346.0,320.0 L346.5,319.2 L347.0,318.8 L347.5,318.8 L348.0,318.6 L348.5,318.7 L349.0,318.9 L349.5,319.9 L350.0,319.4 L350.5,318.2 L351.0,317.9 L351.5,316.8 L352.0,315.8 L352.5,315.5 L353.0,315.3 L353.5,315.8 L354.0,315.2 L354.5,315.2 L355.0,315.5 L355.5,314.7 L356.0,313.9 L356.5,311.7 L357.0,310.3 L357.5,307.7 L358.0,306.9 L358.5,305.4 L359.0,305.2 L359.5,304.8 L360.0,304.8 L360.5,304.4 L361.0,303.3 L361.5,300.8 L362.0,300.4 L362.5,300.8 L363.0,299.7 L363.5,298.1 L364.0,298.2 L364.5,296.9 L365.0,296.6 L365.5,295.9 L366.0,294.9 L366.5,294.7 L367.0,292.3 L367.5,290.5 L368.0,290.4 L368.5,287.2 L369.0,285.6 L369.5,284.7 L370.0,284.3 L370.5,283.1 L371.0,282.8 L371.5,279.6 L372.0,277.8 L372.5,275.3 L373.0,272.4 L373.5,270.0 L374.0,268.5 L374.5,265.8 L375.0,266.0 L375.5,264.9 L376.0,263.7 L376.5,262.3 L377.0,261.4 L377.5,258.7 L378.0,255.5 L378.5,249.0 L379.0,246.3 L379.5,243.1 L380.0,242.1 L380.5,239.7 L381.0,238.0 L381.5,235.9 L382.0,235.5 L382.5,231.2 L383.0,227.9 L383.5,225.6 L384.0,222.5 L384.5,220.8 L385.0,219.3 L385.5,218.6 L386.0,219.2 L386.5,216.1 L387.0,215.2 L387.5,213.4 L388.0,211.2 L388.5,208.3 L389.0,208.3 L389.5,205.4 L390.0,207.0 L390.5,209.2 L391.0,211.4 L391.5,214.4 L392.0,216.0 L392.5,215.9 L393.0,216.9 L393.5,218.0 L394.0,220.6 L394.5,223.3 L395.0,228.6 L395.5,233.7 L396.0,239.2 L396.5,243.7 L397.0,248.6 L397.5,257.7 L398.0,262.9 L398.5,264.3 L399.0,266.3 L399.5,267.3 L400.0,268.8 L400.5,272.0 L401.0,273.9 L401.5,279.2 L402.0,283.2 L402.5,287.5 L403.0,290.5 L403.5,292.7 L404.0,293.9 L404.5,296.3 L405.0,297.3 L405.5,300.3 L406.0,303.9 L406.5,306.8 L407.0,308.5 L407.5,310.2 L408.0,310.1 L408.5,311.8 L409.0,312.5 L409.5,313.7 L410.0,314.7 L410.5,316.8 L411.0,317.1 L411.5,318.8 L412.0,319.8 L412.5,320.2 L413.0,320.8 L413.5,320.7 L414.0,321.0 L414.5,322.0 L415.0,321.0 L415.5,322.6 L416.0,323.5 L416.5,324.2 L417.0,323.8 L417.5,322.9 L418.0,322.2 L418.5,321.4 L419.0,320.4 L419.5,319.6 L420.0,320.3 L420.5,320.7 L421.0,321.5 L421.5,321.9 L422.0,321.8 L422.5,321.4 L423.0,321.7 L423.5,321.1 L424.0,320.9 L424.5,320.9 L425.0,321.0 L425.5,321.3 L426.0,321.1 L426.5,322.4 L427.0,322.5 L427.5,323.0 L428.0,322.1 L428.5,321.9 L429.0,321.2 L429.5,320.8 L430.0,321.6 L430.5,321.5 L431.0,322.5 L431.5,322.4 L432.0,323.1 L432.5,322.8 L433.0,322.5 L433.5,322.6 L434.0,322.1 L434.5,322.4 L435.0,323.2 L435.5,322.9 L436.0,324.4 L436.5,324.8 L437.0,324.6 L437.5,324.5 L438.0,324.6 L438.5,324.7 L439.0,324.9 L439.5,325.8 L440.0,325.4 L440.5,326.3 L441.0,326.8 L441.5,326.7 L442.0,327.3 L442.5,328.0 L443.0,327.6 L443.5,328.0 L444.0,328.1 L444.5,327.5 L445.0,327.3 L445.5,327.6 L446.0,327.5 L446.5,327.4 L447.0,327.9 L447.5,328.3 L448.0,328.6 L448.5,329.0 L449.0,329.0 L449.5,329.1 L450.0,329.2 L450.5,329.8 L451.0,329.2 L451.5,329.0 L452.0,329.5 L452.5,329.4 L453.0,330.0 L453.5,329.9 L454.0,330.1 L454.5,330.5 L455.0,331.0 L455.5,331.3 L456.0,331.3 L456.5,331.5 L457.0,331.4 L457.5,330.9 L458.0,331.1 L458.5,331.1 L459.0,330.8 L459.5,331.5 L460.0,331.5 L460.5,331.8 L461.0,331.7 L461.5,331.8 L462.0,332.3 L462.5,332.4 L463.0,332.2 L463.5,332.2 L464.0,332.1 L464.5,332.0 L465.0,332.2 L465.5,332.6 L466.0,333.3 L466.5,333.3 L467.0,333.0 L467.5,333.3 L468.0,333.0 L468.5,332.8 L469.0,332.8 L469.5,332.7 L470.0,333.1 L470.5,333.0 L471.0,333.1 L471.5,333.4 L472.0,333.6 L472.5,333.3 L473.0,333.3 L473.5,333.3 L474.0,333.4 L474.5,333.4 L475.0,333.9 L475.5,334.0 L476.0,334.3 L476.5,334.1 L477.0,333.9 L477.5,334.0 L478.0,333.8 L478.5,333.9 L479.0,334.1 L479.5,334.5 L480.0,334.8 L480.5,334.8 L481.0,335.0 L481.5,334.8 L482.0,334.8 L482.5,334.8 L483.0,335.0 L483.5,334.9 L484.0,335.2 L484.5,335.3 L485.0,335.0 L485.5,335.0 L486.0,335.0 L486.5,335.1 L487.0,335.1 L487.5,335.0 L488.0,335.3 L488.5,335.1 L489.0,335.1 L489.5,335.3 L490.0,335.2 L490.5,335.1 L491.0,335.2 L491.5,335.2 L492.0,335.2 L492.5,335.1 L493.0,335.1 L493.5,335.1 L494.0,335.3 L494.5,335.3 L495.0,335.3 L495.0,335.3 Z" fill="#c3c3c3" stroke="#3a3a3a" stroke-width="1" stroke-linejoin="round"/>
<path d="M345.7,182.0 H515.0 V335.3" fill="none" stroke="#747474" stroke-width="1.4"/>
<path d="M345.7,182.0 V335.3 H515.0" fill="none" stroke="#585858" stroke-width="1.8"/>
<g stroke="#585858" stroke-width="0.9"><line x1="345.7" y1="335.3" x2="345.7" y2="338.3"/>
<line x1="358.4" y1="335.3" x2="358.4" y2="337.5"/>
<line x1="365.9" y1="335.3" x2="365.9" y2="337.5"/>
<line x1="371.2" y1="335.3" x2="371.2" y2="337.5"/>
<line x1="375.3" y1="335.3" x2="375.3" y2="337.5"/>
<line x1="378.6" y1="335.3" x2="378.6" y2="337.5"/>
<line x1="381.5" y1="335.3" x2="381.5" y2="337.5"/>
<line x1="383.9" y1="335.3" x2="383.9" y2="337.5"/>
<line x1="386.1" y1="335.3" x2="386.1" y2="337.5"/>
<line x1="388.0" y1="335.3" x2="388.0" y2="338.3"/>
<line x1="400.8" y1="335.3" x2="400.8" y2="337.5"/>
<line x1="408.2" y1="335.3" x2="408.2" y2="337.5"/>
<line x1="413.5" y1="335.3" x2="413.5" y2="337.5"/>
<line x1="417.6" y1="335.3" x2="417.6" y2="337.5"/>
<line x1="421.0" y1="335.3" x2="421.0" y2="337.5"/>
<line x1="423.8" y1="335.3" x2="423.8" y2="337.5"/>
<line x1="426.2" y1="335.3" x2="426.2" y2="337.5"/>
<line x1="428.4" y1="335.3" x2="428.4" y2="337.5"/>
<line x1="430.4" y1="335.3" x2="430.4" y2="338.3"/>
<line x1="443.1" y1="335.3" x2="443.1" y2="337.5"/>
<line x1="450.5" y1="335.3" x2="450.5" y2="337.5"/>
<line x1="455.8" y1="335.3" x2="455.8" y2="337.5"/>
<line x1="459.9" y1="335.3" x2="459.9" y2="337.5"/>
<line x1="463.3" y1="335.3" x2="463.3" y2="337.5"/>
<line x1="466.1" y1="335.3" x2="466.1" y2="337.5"/>
<line x1="468.6" y1="335.3" x2="468.6" y2="337.5"/>
<line x1="470.7" y1="335.3" x2="470.7" y2="337.5"/>
<line x1="472.7" y1="335.3" x2="472.7" y2="338.3"/>
<line x1="485.4" y1="335.3" x2="485.4" y2="337.5"/>
<line x1="492.9" y1="335.3" x2="492.9" y2="337.5"/>
<line x1="498.2" y1="335.3" x2="498.2" y2="337.5"/>
<line x1="502.3" y1="335.3" x2="502.3" y2="337.5"/>
<line x1="505.6" y1="335.3" x2="505.6" y2="337.5"/>
<line x1="508.4" y1="335.3" x2="508.4" y2="337.5"/>
<line x1="510.9" y1="335.3" x2="510.9" y2="337.5"/>
<line x1="513.1" y1="335.3" x2="513.1" y2="337.5"/>
<line x1="515.0" y1="335.3" x2="515.0" y2="338.3"/></g>
<g font-family="Liberation Sans, sans-serif" font-size="7.2" fill="#3a3a3a" text-anchor="middle">
<text x="347.2" y="344.8">.1</text>
<text x="388.0" y="344.8">1</text>
<text x="430.4" y="344.8">10</text>
<text x="472.7" y="344.8">100</text>
<text x="507.7" y="344.8">1000</text>
</g>
<g font-family="Liberation Sans, sans-serif" font-size="7.2" fill="#3a3a3a" text-anchor="middle">
<text transform="translate(343.5,331.3) rotate(-90)" x="0" y="0">0</text>
<text transform="translate(343.5,297.0) rotate(-90)" x="0" y="0">26</text>
<text transform="translate(343.5,258.6) rotate(-90)" x="0" y="0">52</text>
<text transform="translate(343.5,220.3) rotate(-90)" x="0" y="0">78</text>
<text transform="translate(343.5,187.0) rotate(-90)" x="0" y="0">104</text>
</g>

<text x="2" y="20.6" font-family="Liberation Sans, sans-serif" font-weight="bold" font-size="24.6">A</text>
<text x="36.8" y="84.6" font-family="Liberation Serif, serif" font-size="30">adult</text>
<text x="39.3" y="267" font-family="Liberation Serif, serif" font-size="30">cord</text>
<text x="162.6" y="372.6" font-family="Liberation Serif, serif" font-weight="bold" font-size="18.2">pLenti6</text>
<text x="365" y="372.6" font-family="Liberation Serif, serif" font-weight="bold" font-size="18.2">pLenti6-C/<tspan dx="1.2">EBP</tspan><tspan dx="0.5" font-weight="normal" font-size="20.5">α</tspan></text>

<text x="2" y="422.5" font-family="Liberation Sans, sans-serif" font-weight="bold" font-size="23">B</text>
<g font-family="Liberation Serif, serif" font-weight="bold" font-size="11.3" text-anchor="end">
<text x="68" y="688.2">0</text>
<text x="68" y="658.7">50</text>
<text x="68" y="629.2">100</text>
<text x="68" y="599.7">150</text>
<text x="68" y="570.1">200</text>
<text x="68" y="540.6">250</text>
<text x="68" y="511.1">300</text>
<text x="68" y="481.6">350</text>
<text x="68" y="452.1">400</text>
</g>
<g stroke="#aaa" stroke-width="0.8">
<line x1="75.2" y1="654.9" x2="79.2" y2="654.9"/>
<line x1="75.2" y1="625.4" x2="79.2" y2="625.4"/>
<line x1="75.2" y1="595.9" x2="79.2" y2="595.9"/>
<line x1="75.2" y1="566.4" x2="79.2" y2="566.4"/>
<line x1="75.2" y1="536.8" x2="79.2" y2="536.8"/>
<line x1="75.2" y1="507.3" x2="79.2" y2="507.3"/>
<line x1="75.2" y1="477.8" x2="79.2" y2="477.8"/>
<line x1="173.0" y1="684.4" x2="173.0" y2="680.4"/>
<line x1="271.8" y1="684.4" x2="271.8" y2="680.4"/>
<line x1="369.7" y1="684.4" x2="369.7" y2="680.4"/>
</g>
<rect x="90.8" y="670.5" width="22.7" height="13.9" fill="#353535" stroke="#1a1a1a" stroke-width="1.5"/>
<rect x="113.5" y="682.8" width="20.5" height="1.6" fill="#c8c8c8" stroke="#666" stroke-width="1.1"/>
<rect x="134.5" y="656.6" width="22.5" height="27.8" fill="#fff" stroke="#1a1a1a" stroke-width="1.5"/>
<rect x="189.1" y="636.1" width="21.9" height="48.3" fill="#353535" stroke="#1a1a1a" stroke-width="1.5"/>
<rect x="211.0" y="675.3" width="22.4" height="9.1" fill="#c8c8c8" stroke="#666" stroke-width="1.1"/>
<rect x="233.6" y="478.5" width="21.8" height="205.9" fill="#fff" stroke="#1a1a1a" stroke-width="1.5"/>
<rect x="288.0" y="626.8" width="21.8" height="57.6" fill="#353535" stroke="#1a1a1a" stroke-width="1.5"/>
<rect x="309.8" y="683.0" width="21.6" height="1.4" fill="#c8c8c8" stroke="#666" stroke-width="1.1"/>
<rect x="331.4" y="668.9" width="22.9" height="15.5" fill="#fff" stroke="#1a1a1a" stroke-width="1.5"/>
<rect x="386.2" y="640.4" width="21.8" height="44.0" fill="#353535" stroke="#1a1a1a" stroke-width="1.5"/>
<rect x="408.0" y="683.2" width="21.8" height="1.2" fill="#c8c8c8" stroke="#666" stroke-width="1.1"/>
<rect x="429.8" y="498.0" width="22.4" height="186.4" fill="#fff" stroke="#1a1a1a" stroke-width="1.5"/>
<g stroke="#111" stroke-width="1.4" fill="none">
<path d="M102.2,667.4 V673.5 M99.9,667.4 H104.5 M99.9,673.5 H104.5"/>
<path d="M123.8,681.2 V684.0 M121.5,681.2 H126.1 M121.5,684.0 H126.1"/>
<path d="M145.9,653.2 V660.0 M143.6,653.2 H148.2 M143.6,660.0 H148.2"/>
<path d="M200.1,627.3 V645.0 M197.8,627.3 H202.4 M197.8,645.0 H202.4"/>
<path d="M222.2,673.5 V677.0 M219.9,673.5 H224.5 M219.9,677.0 H224.5"/>
<path d="M244.2,466.5 V490.5 M241.9,466.5 H246.5 M241.9,490.5 H246.5"/>
<path d="M299.0,619.5 V634.3 M296.7,619.5 H301.3 M296.7,634.3 H301.3"/>
<path d="M320.6,682.0 V684.0 M318.3,682.0 H322.9 M318.3,684.0 H322.9"/>
<path d="M342.8,664.2 V674.4 M340.5,664.2 H345.1 M340.5,674.4 H345.1"/>
<path d="M397.1,640.0 V641.0 M394.8,640.0 H399.4 M394.8,641.0 H399.4"/>
<path d="M418.9,682.5 V684.0 M416.6,682.5 H421.2 M416.6,684.0 H421.2"/>
<path d="M440.7,485.0 V511.1 M438.4,485.0 H443.0 M438.4,511.1 H443.0"/>
</g>
<path d="M75.2,448.3 H468.5 V684.4" fill="none" stroke="#222" stroke-width="1.5"/>
<path d="M75.2,448.3 V684.4 H468.5" fill="none" stroke="#111" stroke-width="2"/>
<rect x="472.7" y="543.5" width="45.9" height="65.9" fill="#fff" stroke="#111" stroke-width="1.5"/>
<rect x="479" y="551.7" width="6.3" height="6" fill="#353535" stroke="#111" stroke-width="1"/>
<rect x="479" y="573.6" width="6.3" height="6" fill="#c8c8c8" stroke="#555" stroke-width="1"/>
<rect x="479" y="594.3" width="6.3" height="6" fill="#fff" stroke="#111" stroke-width="1.2"/>
<g font-family="Liberation Serif, serif" font-style="italic" font-weight="bold" font-size="9">
<text x="488.6" y="558.3">IGnTA</text><text x="488.6" y="580.3">IGnTB</text><text x="488.6" y="601">IGnTC</text>
</g>
<text transform="translate(33,634.3) rotate(-90)" font-family="Liberation Serif, serif" font-weight="bold" font-size="18.3"><tspan font-style="italic">IGnT</tspan>/10<tspan font-size="13" dy="-6.5">3</tspan><tspan dy="6.5" dx="3.2" font-style="italic" font-size="20">β-actin</tspan></text>
<g font-family="Liberation Serif, serif" font-weight="bold" font-size="12.8" text-anchor="middle">
<text x="123.1" y="705.2">pLenti6</text>
<text x="222.3" y="705.2">pLenti6-C/EBP<tspan font-weight="normal">α</tspan></text>
<text x="321" y="705.2">pLenti6</text>
<text x="420.5" y="705.2">pLenti6-C/EBP<tspan font-weight="normal">α</tspan></text>
</g>
<g stroke="#222" stroke-width="1.6"><line x1="93.6" y1="711.9" x2="268.8" y2="711.9"/><line x1="295" y1="711.9" x2="469.8" y2="711.9"/></g>
<g font-family="Liberation Serif, serif" font-weight="bold" font-size="23.5" text-anchor="middle">
<text x="172" y="736.2">adult</text><text x="371.5" y="736.2">cord</text>
</g>
</svg>
</body></html>
